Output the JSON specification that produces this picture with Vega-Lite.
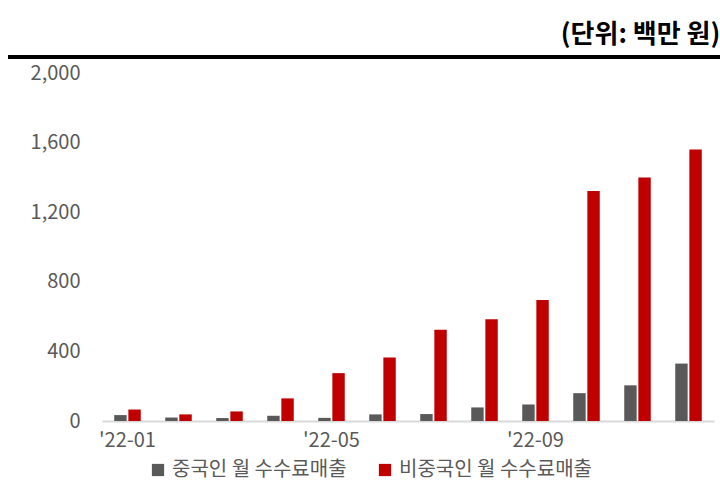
{
  "$schema": "https://vega.github.io/schema/vega-lite/v6.json",
  "width": 612,
  "height": 348,
  "autosize": {"type": "none"},
  "padding": {"left": 102, "top": 73, "right": 6, "bottom": 65},
  "background": "white",
  "config": {
    "view": {"stroke": null},
    "font": "Noto Sans CJK KR"
  },
  "title": {
    "text": "(단위: 백만 원)",
    "anchor": "end",
    "orient": "top",
    "offset": 24,
    "fontSize": 26,
    "fontWeight": "bold",
    "color": "#000000",
    "font": "Noto Sans CJK KR",
    "dx": -1,
    "dy": 16
  },
  "data": {
    "values": [
      {"month": "'22-01", "series": "중국인 월 수수료매출", "value": 34},
      {"month": "'22-01", "series": "비중국인 월 수수료매출", "value": 66},
      {"month": "'22-02", "series": "중국인 월 수수료매출", "value": 20},
      {"month": "'22-02", "series": "비중국인 월 수수료매출", "value": 38},
      {"month": "'22-03", "series": "중국인 월 수수료매출", "value": 17},
      {"month": "'22-03", "series": "비중국인 월 수수료매출", "value": 55},
      {"month": "'22-04", "series": "중국인 월 수수료매출", "value": 30},
      {"month": "'22-04", "series": "비중국인 월 수수료매출", "value": 130},
      {"month": "'22-05", "series": "중국인 월 수수료매출", "value": 18},
      {"month": "'22-05", "series": "비중국인 월 수수료매출", "value": 275},
      {"month": "'22-06", "series": "중국인 월 수수료매출", "value": 38},
      {"month": "'22-06", "series": "비중국인 월 수수료매출", "value": 365},
      {"month": "'22-07", "series": "중국인 월 수수료매출", "value": 40},
      {"month": "'22-07", "series": "비중국인 월 수수료매출", "value": 525},
      {"month": "'22-08", "series": "중국인 월 수수료매출", "value": 78},
      {"month": "'22-08", "series": "비중국인 월 수수료매출", "value": 585},
      {"month": "'22-09", "series": "중국인 월 수수료매출", "value": 95},
      {"month": "'22-09", "series": "비중국인 월 수수료매출", "value": 695},
      {"month": "'22-10", "series": "중국인 월 수수료매출", "value": 160},
      {"month": "'22-10", "series": "비중국인 월 수수료매출", "value": 1322},
      {"month": "'22-11", "series": "중국인 월 수수료매출", "value": 205},
      {"month": "'22-11", "series": "비중국인 월 수수료매출", "value": 1400},
      {"month": "'22-12", "series": "중국인 월 수수료매출", "value": 330},
      {"month": "'22-12", "series": "비중국인 월 수수료매출", "value": 1561}
    ]
  },
  "layer": [
    {
      "mark": {"type": "bar"},
      "encoding": {
        "x": {
          "field": "month",
          "type": "ordinal",
          "scale": {"paddingInner": 0.48, "paddingOuter": 0.24},
          "axis": {
            "title": null,
            "values": ["'22-01", "'22-05", "'22-09"],
            "labelAngle": 0,
            "labelFontSize": 20,
            "labelColor": "#595959",
            "labelPadding": 9,
            "ticks": false,
            "domainColor": "#d9d9d9",
            "domainWidth": 2
          }
        },
        "xOffset": {
          "field": "series",
          "type": "nominal",
          "sort": ["중국인 월 수수료매출", "비중국인 월 수수료매출"],
          "scale": {"paddingInner": 0.12}
        },
        "y": {
          "field": "value",
          "type": "quantitative",
          "scale": {"domain": [0, 2000]},
          "axis": {
            "title": null,
            "values": [0, 400, 800, 1200, 1600, 2000],
            "format": ",d",
            "grid": false,
            "domain": false,
            "ticks": false,
            "labelFontSize": 20,
            "labelColor": "#595959",
            "labelPadding": 22
          }
        },
        "color": {
          "field": "series",
          "type": "nominal",
          "sort": ["중국인 월 수수료매출", "비중국인 월 수수료매출"],
          "scale": {
            "domain": ["중국인 월 수수료매출", "비중국인 월 수수료매출"],
            "range": ["#595959", "#C00000"]
          },
          "legend": {
            "title": null,
            "orient": "none",
            "direction": "horizontal",
            "legendX": 46,
            "legendY": 387,
            "symbolType": "square",
            "symbolSize": 150,
            "symbolStrokeWidth": 0,
            "labelFontSize": 20,
            "labelLimit": 400,
            "labelColor": "#595959",
            "labelOffset": 4,
            "columnPadding": 28
          }
        }
      }
    },
    {
      "mark": {"type": "rule", "color": "#000000", "strokeWidth": 2.5},
      "encoding": {
        "y": {"datum": 2092, "type": "quantitative"},
        "x": {"value": -94},
        "x2": {"value": 618}
      }
    }
  ]
}
